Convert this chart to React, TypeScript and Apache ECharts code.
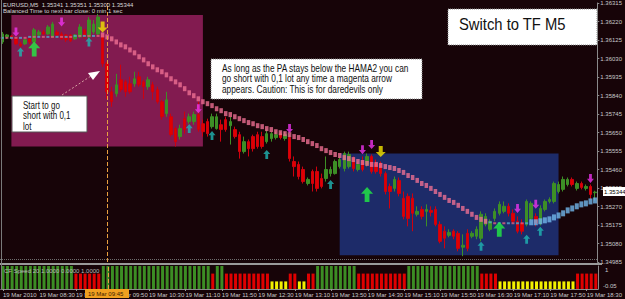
import React, { useEffect, useRef } from "react";
import * as echarts from "echarts";

// ---------- data ----------
const tickLabels = [
  "19 Mar 2010", "19 Mar 08:30", "19 Mar 09:10", "19 Mar 09:50", "19 Mar 10:30", "19 Mar 11:10",
  "19 Mar 11:50", "19 Mar 12:30", "19 Mar 13:10", "19 Mar 13:50", "19 Mar 14:30", "19 Mar 15:10",
  "19 Mar 15:50", "19 Mar 16:30", "19 Mar 17:10", "19 Mar 17:50", "19 Mar 18:30",
];

const pad = (n: number) => (n < 10 ? "0" + n : "" + n);
const barCount = 131;
const categories: string[] = Array.from({ length: barCount }, (_, i) => {
  const m = 7 * 60 + 50 + 5 * i;
  return `19 Mar ${pad(Math.floor(m / 60))}:${pad(m % 60)}`;
});

const opens = [
  1.36115, 1.36141, 1.36146, 1.36131, 1.36105, 1.36105, 1.36131, 1.36115, 1.36151, 1.36166,
  1.36156, 1.36141, 1.36166, 1.36156, 1.36151, 1.36151, 1.36131, 1.36141, 1.36177, 1.36141,
  1.36166, 1.36156, 1.36151, 1.36003, 1.35859, 1.35849, 1.35921, 1.35910, 1.35900, 1.35900,
  1.35936, 1.35910, 1.35885, 1.35895, 1.35870, 1.35808, 1.35747, 1.35731, 1.35670, 1.35629,
  1.35721, 1.35706, 1.35706, 1.35742, 1.35695, 1.35706, 1.35680, 1.35670, 1.35690, 1.35716,
  1.35685, 1.35665, 1.35639, 1.35552, 1.35603, 1.35629, 1.35639, 1.35629, 1.35603, 1.35619,
  1.35624, 1.35644, 1.35619, 1.35624, 1.35501, 1.35486, 1.35460, 1.35388, 1.35450, 1.35450,
  1.35414, 1.35414, 1.35439, 1.35439, 1.35475, 1.35465, 1.35475, 1.35516, 1.35460, 1.35501,
  1.35486, 1.35527, 1.35491, 1.35491, 1.35439, 1.35373, 1.35363, 1.35404, 1.35312, 1.35322,
  1.35312, 1.35230, 1.35255, 1.35245, 1.35250, 1.35255, 1.35178, 1.35143, 1.35122, 1.35143,
  1.35132, 1.35061, 1.35132, 1.35117, 1.35117, 1.35107, 1.35178, 1.35153, 1.35209, 1.35235,
  1.35245, 1.35271, 1.35235, 1.35194, 1.35184, 1.35178, 1.35209, 1.35219, 1.35184, 1.35255,
  1.35296, 1.35296, 1.35347, 1.35358, 1.35383, 1.35409, 1.35363, 1.35388, 1.35363, 1.35373,
  1.35341,
];
const closes = [
  1.36156, 1.36151, 1.36136, 1.36105, 1.36095, 1.36126, 1.36115, 1.36177, 1.36166, 1.36156,
  1.36192, 1.36207, 1.36151, 1.36131, 1.36126, 1.36120, 1.36151, 1.36192, 1.36141, 1.36228,
  1.36207, 1.36243, 1.36003, 1.35859, 1.35808, 1.35895, 1.35870, 1.35859, 1.35859, 1.35926,
  1.35895, 1.35885, 1.35921, 1.35859, 1.35808, 1.35731, 1.35818, 1.35639, 1.35603, 1.35670,
  1.35665, 1.35731, 1.35742, 1.35665, 1.35654, 1.35644, 1.35731, 1.35731, 1.35665, 1.35665,
  1.35706, 1.35629, 1.35552, 1.35603, 1.35567, 1.35567, 1.35578, 1.35578, 1.35644, 1.35644,
  1.35639, 1.35624, 1.35639, 1.35516, 1.35475, 1.35424, 1.35398, 1.35409, 1.35388, 1.35363,
  1.35373, 1.35460, 1.35460, 1.35501, 1.35511, 1.35542, 1.35537, 1.35465, 1.35486, 1.35460,
  1.35527, 1.35450, 1.35450, 1.35439, 1.35347, 1.35347, 1.35409, 1.35337, 1.35219, 1.35209,
  1.35235, 1.35245, 1.35219, 1.35255, 1.35240, 1.35178, 1.35091, 1.35107, 1.35137, 1.35117,
  1.35055, 1.35071, 1.35055, 1.35132, 1.35153, 1.35230, 1.35219, 1.35194, 1.35245, 1.35281,
  1.35271, 1.35235, 1.35194, 1.35143, 1.35143, 1.35296, 1.35286, 1.35184, 1.35260, 1.35296,
  1.35306, 1.35388, 1.35383, 1.35409, 1.35409, 1.35383, 1.35388, 1.35368, 1.35373, 1.35332,
  1.35344,
];
const highs = [
  1.36166, 1.36156, 1.36151, 1.36136, 1.36115, 1.36131, 1.36141, 1.36187, 1.36177, 1.36177,
  1.36202, 1.36218, 1.36177, 1.36166, 1.36156, 1.36156, 1.36156, 1.36207, 1.36182, 1.36243,
  1.36228, 1.36259, 1.36156, 1.36013, 1.35885, 1.35951, 1.35998, 1.35921, 1.35936, 1.35962,
  1.35962, 1.35921, 1.35936, 1.35910, 1.35885, 1.35818, 1.35859, 1.35747, 1.35680, 1.35690,
  1.35757, 1.35747, 1.35757, 1.35808, 1.35716, 1.35721, 1.35747, 1.35747, 1.35716, 1.35731,
  1.35731, 1.35680, 1.35654, 1.35629, 1.35614, 1.35639, 1.35654, 1.35654, 1.35665, 1.35654,
  1.35654, 1.35654, 1.35654, 1.35639, 1.35527, 1.35501, 1.35475, 1.35419, 1.35460, 1.35475,
  1.35439, 1.35527, 1.35475, 1.35511, 1.35527, 1.35552, 1.35552, 1.35527, 1.35501, 1.35527,
  1.35542, 1.35537, 1.35511, 1.35501, 1.35450, 1.35388, 1.35424, 1.35419, 1.35347, 1.35337,
  1.35337, 1.35271, 1.35271, 1.35281, 1.35271, 1.35271, 1.35194, 1.35168, 1.35153, 1.35153,
  1.35143, 1.35127, 1.35153, 1.35143, 1.35168, 1.35245, 1.35235, 1.35204, 1.35260, 1.35296,
  1.35296, 1.35286, 1.35255, 1.35219, 1.35204, 1.35306, 1.35296, 1.35235, 1.35276, 1.35306,
  1.35317, 1.35398, 1.35398, 1.35424, 1.35419, 1.35419, 1.35398, 1.35398, 1.35383, 1.35383,
  1.35351,
];
const lows = [
  1.36105, 1.36131, 1.36126, 1.36100, 1.36090, 1.36100, 1.36105, 1.36110, 1.36141, 1.36151,
  1.36151, 1.36136, 1.36146, 1.36126, 1.36115, 1.36115, 1.36126, 1.36136, 1.36131, 1.36131,
  1.36156, 1.36151, 1.35987, 1.35823, 1.35782, 1.35834, 1.35859, 1.35834, 1.35849, 1.35885,
  1.35885, 1.35823, 1.35870, 1.35818, 1.35798, 1.35716, 1.35731, 1.35629, 1.35578, 1.35614,
  1.35644, 1.35695, 1.35690, 1.35654, 1.35629, 1.35629, 1.35670, 1.35665, 1.35603, 1.35654,
  1.35588, 1.35619, 1.35516, 1.35542, 1.35527, 1.35552, 1.35567, 1.35567, 1.35593, 1.35603,
  1.35614, 1.35614, 1.35608, 1.35501, 1.35424, 1.35409, 1.35388, 1.35378, 1.35347, 1.35347,
  1.35363, 1.35398, 1.35424, 1.35434, 1.35465, 1.35450, 1.35465, 1.35450, 1.35450, 1.35450,
  1.35475, 1.35439, 1.35439, 1.35424, 1.35332, 1.35260, 1.35347, 1.35322, 1.35204, 1.35168,
  1.35143, 1.35219, 1.35204, 1.35168, 1.35219, 1.35168, 1.35081, 1.35055, 1.35112, 1.35102,
  1.35040, 1.35015, 1.35040, 1.35107, 1.35102, 1.35091, 1.35168, 1.35143, 1.35194, 1.35224,
  1.35235, 1.35219, 1.35184, 1.35132, 1.35127, 1.35168, 1.35199, 1.35168, 1.35173, 1.35245,
  1.35286, 1.35286, 1.35337, 1.35347, 1.35373, 1.35373, 1.35352, 1.35358, 1.35352, 1.35306,
  1.35300,
];

// HAMA line values and trend state (f = flat/mixed, p = falling/pink, b = rising/blue)
const hama = [
  1.36136, 1.36136, 1.36136, 1.36136, 1.36136, 1.36136, 1.36141, 1.36141, 1.36141, 1.36141,
  1.36141, 1.36141, 1.36141, 1.36141, 1.36141, 1.36141, 1.36146, 1.36146, 1.36146, 1.36146,
  1.36146, 1.36146, 1.36151, 1.36141, 1.36131, 1.36115, 1.36100, 1.36090, 1.36074, 1.36059,
  1.36039, 1.36023, 1.36003, 1.35987, 1.35972, 1.35962, 1.35946, 1.35926, 1.35910, 1.35895,
  1.35875, 1.35854, 1.35839, 1.35823, 1.35808, 1.35798, 1.35788, 1.35772, 1.35762, 1.35747,
  1.35742, 1.35731, 1.35721, 1.35711, 1.35701, 1.35695, 1.35685, 1.35680, 1.35670, 1.35665,
  1.35654, 1.35649, 1.35644, 1.35639, 1.35629, 1.35624, 1.35614, 1.35603, 1.35593, 1.35583,
  1.35567, 1.35557, 1.35547, 1.35537, 1.35532, 1.35521, 1.35516, 1.35511, 1.35501, 1.35496,
  1.35491, 1.35486, 1.35486, 1.35481, 1.35475, 1.35470, 1.35465, 1.35455, 1.35445, 1.35429,
  1.35419, 1.35404, 1.35388, 1.35378, 1.35363, 1.35347, 1.35332, 1.35317, 1.35301, 1.35291,
  1.35276, 1.35260, 1.35245, 1.35230, 1.35214, 1.35204, 1.35194, 1.35189, 1.35184, 1.35184,
  1.35184, 1.35184, 1.35184, 1.35184, 1.35184, 1.35184, 1.35189, 1.35189, 1.35194, 1.35199,
  1.35204, 1.35214, 1.35224, 1.35235, 1.35250, 1.35260, 1.35271, 1.35281, 1.35286, 1.35296,
  1.35301,
];
const hamaTrend =
  "ffffffffffffffffffffff" +
  "ppppppppppppppppppppppppppppppppppppppppppppppppppppppppppppppppppppppppppppppppppppp" +
  "fffffffff" +
  "bbbbbbbbbbbbbbb";

// signal arrows: [bar index, price]
const magentaDown: [number, number][] = [
  [3, 1.36166], [13, 1.36218], [43, 1.35772], [63, 1.3567], [79, 1.35562],
  [81, 1.35588], [113, 1.3526], [117, 1.35281], [129, 1.35414],
];
const yellowDown: [number, number][] = [[22, 1.36192], [83, 1.35552]];
const cyanUp: [number, number][] = [
  [4, 1.36064], [19, 1.36115], [41, 1.3567], [46, 1.35634], [58, 1.35537],
  [72, 1.35383], [105, 1.35066], [115, 1.35102], [118, 1.35143],
];
const greenUp: [number, number][] = [[7, 1.36079], [80, 1.35332], [109, 1.35153]];

// "CF Speed" sub-window state per bar: G = green (1), R = red, Y = yellow
const speedState =
  "GGGGGGGGGGGGGGGG" + "RRRRRR" + "GGGGGGGGGGGGGGGGGGGGGGGG" + "R" + "GG" + "RRRRRRRRRR" +
  "YYYY" + "RR" + "YY" + "RR" + "GGGGGGGGG" + "RRRRRRRRRRR" + "GGGGGGGGGGGGGGGG" + "RRRR" +
  "YYYYYYYYYYYYYYYYY" + "RRRRR";
const speedLevel: Record<string, number> = { G: 1, R: 0.67, Y: 0.33 };
const speedColor: Record<string, string> = { G: "#3c8d24", R: "#e00000", Y: "#f2f000" };

const priceMin = 1.34985;
const priceMax = 1.36315;
const lastPrice = 1.35344;
const crossBar = 23;

// ---------- chart ----------
const FONT = "Liberation Sans";
const downPath = "path://M3,0L7,0L7,6L10,6L5,11L0,6L3,6Z";
const upPath = "path://M5,0L10,5L7,5L7,11L3,11L3,5L0,5Z";

function txt(text: string, x: number, y: number, size: number, color: string, extra: any = {}, scaleX = 1) {
  return {
    type: "text",
    x,
    y,
    scaleX,
    z: 100,
    silent: true,
    style: { text, fill: color, fontSize: size, fontFamily: FONT, verticalAlign: "top", ...extra },
  };
}

export default function App() {
  const ref = useRef<HTMLDivElement>(null);
  useEffect(() => {
    const chart = echarts.init(ref.current!, null, { renderer: "svg" });

    const hamaPts = (code: string) =>
      hama.map((v, i) => (hamaTrend[i] === code ? [i, v] : null)).filter((d) => d !== null);

    const option: any = {
      animation: false,
      backgroundColor: "#170408",
      grid: [
        { left: 0, right: 23, top: 1, height: 261 },
        { left: 0, right: 23, top: 266, height: 23 },
      ],
      xAxis: [
        {
          type: "category",
          gridIndex: 0,
          data: categories,
          boundaryGap: true,
          axisLine: { show: false },
          axisTick: { show: false },
          axisLabel: { show: false },
          splitLine: { show: false },
        },
        {
          type: "category",
          gridIndex: 1,
          data: categories,
          boundaryGap: true,
          axisLine: { show: true, lineStyle: { color: "#8a8a8a" } },
          axisTick: { show: true, interval: 7, alignWithLabel: true, length: 2, lineStyle: { color: "#9a9a9a" } },
          axisLabel: {
            interval: 7,
            align: "left",
            fontSize: 6,
            fontFamily: FONT,
            color: "#c8c8c8",
            margin: 3,
            formatter: (_v: string, i: number) => tickLabels[Math.round(i / 8)] ?? "",
          },
          splitLine: { show: false },
        },
      ],
      yAxis: [
        { type: "value", gridIndex: 0, min: priceMin, max: priceMax, show: false, splitLine: { show: false } },
        {
          type: "value",
          gridIndex: 0,
          position: "right",
          min: 0,
          max: 1330,
          interval: 95,
          axisLine: { show: true, lineStyle: { color: "#8a8a8a" } },
          axisTick: { show: true, length: 2, lineStyle: { color: "#8a8a8a" } },
          splitLine: { show: false },
          axisLabel: {
            fontSize: 6,
            fontFamily: FONT,
            color: "#c8c8c8",
            margin: 3,
            formatter: (v: number) => (priceMin + v / 100000).toFixed(5),
          },
        },
        {
          type: "value",
          gridIndex: 1,
          position: "right",
          min: 0,
          max: 1,
          axisLine: { show: true, lineStyle: { color: "#8a8a8a" } },
          axisTick: { show: false },
          axisLabel: { show: false },
          splitLine: { show: false },
        },
      ],
      series: [
        {
          type: "candlestick",
          xAxisIndex: 0,
          yAxisIndex: 0,
          barWidth: 3,
          data: opens.map((o, i) => [o, closes[i], lows[i], highs[i]]),
          itemStyle: {
            color: "#3d8f26",
            color0: "#e00000",
            borderColor: "#3d8f26",
            borderColor0: "#d0000e",
            borderWidth: 1,
          },
          markArea: {
            silent: true,
            data: [
              [{ xAxis: 2, yAxis: 1.36254, itemStyle: { color: "#821b50" } }, { xAxis: 44, yAxis: 1.35578 }],
              [{ xAxis: 74, yAxis: 1.35542, itemStyle: { color: "#1d2b69" } }, { xAxis: 122, yAxis: 1.3502 }],
            ],
          },
          markLine: {
            silent: true,
            symbol: ["none", "none"],
            label: { show: false },
            data: [
              { yAxis: lastPrice, lineStyle: { color: "#6e6e6e", type: "dotted", width: 1 } },
              { xAxis: crossBar, lineStyle: { color: "#e8a040", type: "dashed", width: 1 } },
            ],
          },
        },
        {
          type: "scatter",
          xAxisIndex: 0,
          yAxisIndex: 0,
          symbol: "rect",
          symbolSize: [3, 2],
          data: hamaPts("f"),
          itemStyle: { color: (p: any) => (p.dataIndex % 2 ? "#e0607e" : "#4fa8d0") },
          z: 3,
        },
        {
          type: "scatter",
          xAxisIndex: 0,
          yAxisIndex: 0,
          symbol: "rect",
          symbolSize: [3.5, 5],
          data: hamaPts("p"),
          itemStyle: { color: "#ee6f92" },
          z: 3,
        },
        {
          type: "scatter",
          xAxisIndex: 0,
          yAxisIndex: 0,
          symbol: "rect",
          symbolSize: [4, 6],
          data: hamaPts("b"),
          itemStyle: { color: "#72b8ec" },
          z: 3,
        },
        {
          type: "scatter", xAxisIndex: 0, yAxisIndex: 0, symbol: downPath, symbolSize: [7, 9],
          data: magentaDown, itemStyle: { color: "#ee33ee" }, z: 4,
        },
        {
          type: "scatter", xAxisIndex: 0, yAxisIndex: 0, symbol: downPath, symbolSize: [10, 11],
          data: yellowDown, itemStyle: { color: "#f4e600" }, z: 4,
        },
        {
          type: "scatter", xAxisIndex: 0, yAxisIndex: 0, symbol: upPath, symbolSize: [7, 9],
          data: cyanUp, itemStyle: { color: "#1fb6b4" }, z: 4,
        },
        {
          type: "scatter", xAxisIndex: 0, yAxisIndex: 0, symbol: upPath, symbolSize: [12, 15],
          data: greenUp, itemStyle: { color: "#22ee44" }, z: 4,
        },
        {
          type: "bar",
          xAxisIndex: 1,
          yAxisIndex: 2,
          barWidth: 3,
          data: speedState.split("").map((s) => ({ value: speedLevel[s], itemStyle: { color: speedColor[s] } })),
          markLine: {
            silent: true,
            symbol: ["none", "none"],
            label: { show: false },
            data: [{ xAxis: crossBar, lineStyle: { color: "#e8a040", type: "dashed", width: 1 } }],
          },
        },
      ],
      graphic: [
        // frame lines
        { type: "line", z: 90, silent: true, shape: { x1: 0, y1: 264, x2: 602, y2: 264 }, style: { stroke: "#9a9a9a", lineWidth: 2 } },
        { type: "line", z: 90, silent: true, shape: { x1: 1.5, y1: 0, x2: 1.5, y2: 290 }, style: { stroke: "#7a7a7a", lineWidth: 1 } },
        // header
        txt("EURUSD,M5  1.35341 1.35351 1.35300 1.35344", 3, 2, 6, "#d8d8d8"),
        txt("Balanced Time to next bar close: 0 min 1 sec", 3, 8, 6, "#d8d8d8"),
        // annotation 1
        { type: "rect", z: 95, silent: true, shape: { x: 12, y: 96, width: 75, height: 36 }, style: { fill: "#ffffff", stroke: "#555555", lineWidth: 1 } },
        txt("Start to go\nshort with 0,1\nlot", 23, 100, 10, "#111111", { lineHeight: 10.5 }, 0.8),
        { type: "line", z: 95, silent: true, shape: { x1: 62, y1: 95, x2: 91, y2: 76 }, style: { stroke: "#d4a0a0", lineWidth: 1, lineDash: [2, 2] } },
        { type: "polygon", z: 96, silent: true, shape: { points: [[88, 73], [100, 71], [93, 80]] }, style: { fill: "#ffffff" } },
        // annotation 2
        { type: "rect", z: 95, silent: true, shape: { x: 211, y: 59, width: 211, height: 40 }, style: { fill: "#ffffff", stroke: "#888888", lineWidth: 1, lineDash: [1, 1] } },
        txt(
          "As long as the PA stays below the HAMA2 you can\ngo short with 0,1 lot any time a magenta arrow\nappears. Caution: This is for daredevils only",
          222, 63, 10, "#111111", { lineHeight: 10.7 }, 0.83
        ),
        // annotation 3
        { type: "rect", z: 95, silent: true, shape: { x: 448, y: 9, width: 149, height: 36 }, style: { fill: "#ffffff", stroke: "#888888", lineWidth: 1, lineDash: [1, 1] } },
        txt("Switch to TF M5", 459, 16, 17, "#111111", {}, 0.87),
        // price tag
        { type: "rect", z: 95, silent: true, shape: { x: 603, y: 187, width: 22, height: 9 }, style: { fill: "#ffffff" } },
        txt("1.35344", 604, 189, 6, "#000000"),
        // time tag (crosshair)
        { type: "rect", z: 95, silent: true, shape: { x: 85, y: 289, width: 44, height: 9 }, style: { fill: "#f0a020" } },
        txt("19 Mar 09:45", 88, 291, 6, "#3a2000"),
        // sub-window labels
        txt("CF Speed 20 1.0000 0.0000 1.0000", 4, 268, 6, "#b8b8b8"),
        txt("1", 605, 267, 6, "#c8c8c8"),
        txt("-0.05", 603, 283, 6, "#c8c8c8"),
      ],
    };

    chart.setOption(option);
    return () => chart.dispose();
  }, []);

  return (
    <div
      ref={ref}
      style={{ position: "fixed", left: 0, top: 0, width: 625, height: 299, background: "#170408" }}
    />
  );
}
